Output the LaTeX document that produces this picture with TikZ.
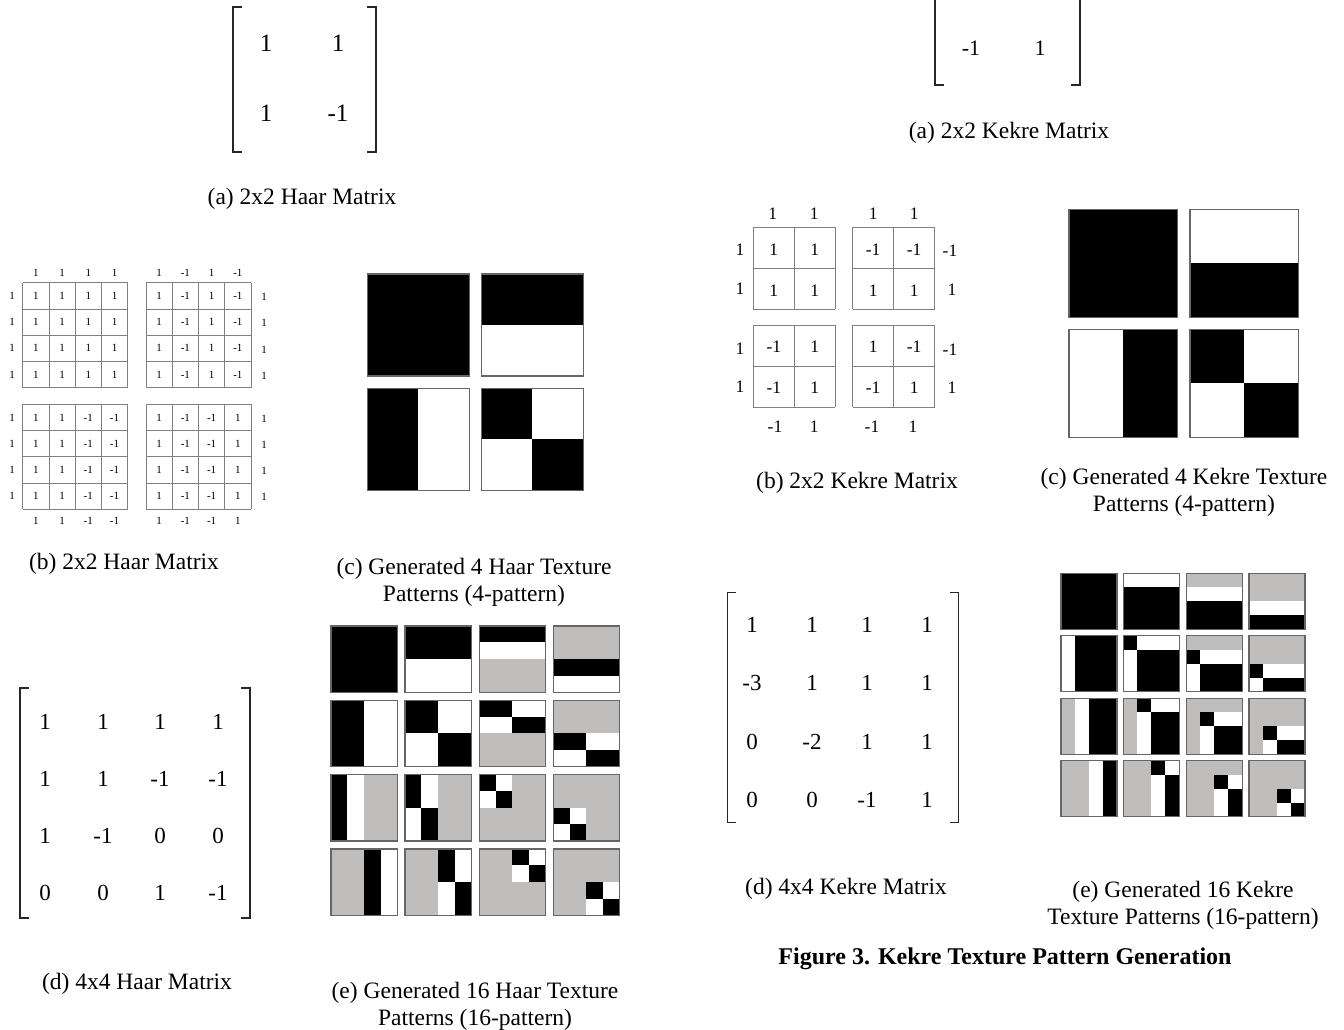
\documentclass[tikz,border=0pt]{standalone}
\usepackage{fontspec}
\setmainfont{Liberation Serif}
\begin{document}
\begin{tikzpicture}[x=1pt,y=-1pt]
\definecolor{texgray}{RGB}{192,189,189}
\colorlet{tc0}{white}
\colorlet{tc1}{texgray}
\colorlet{tc2}{black}
\tikzset{
  caption/.style={inner sep=0pt, font=\fontsize{23.5}{27}\selectfont, align=center, yshift=-3pt},
  figcap/.style={inner sep=0pt, font=\bfseries\fontsize{24}{27}\selectfont, yshift=-3pt},
  bigent/.style={inner sep=0pt, font=\fontsize{25}{25}\selectfont},
  mident/.style={inner sep=0pt, font=\fontsize{23}{23}\selectfont},
  kent/.style={inner sep=0pt, font=\fontsize{22}{22}\selectfont},
  klab/.style={inner sep=0pt, font=\fontsize{17.5}{17.5}\selectfont},
  tinylab/.style={inner sep=0pt, font=\fontsize{11}{11}\selectfont},
  bracket/.style={draw=black!85, line width=1.3pt},
  gridline/.style={draw=black!50, line width=0.9pt},
  tileborder/.style={draw=black!60, line width=1.3pt}
}
\useasboundingbox (0,0) rectangle (1344,1029);
\fill[white] (0,0) rectangle (1344,1029);

% ---------- texture tile macro ----------
\newcommand{\texgrid}[7]{%
  \pgfmathtruncatemacro\nm{#6-1}%
  \foreach \a in {0,...,\nm}{\foreach \b in {0,...,\nm}{%
    \foreach \i in {0,...,\nm}{\foreach \j in {0,...,\nm}{%
      \pgfmathtruncatemacro\s{sign(#7[#6*\b+\i]*#7[#6*\a+\j])+1}%
      \pgfmathsetmacro\cx{#1+#4*\b+#3/#6*\j}%
      \pgfmathsetmacro\cy{#2+#5*\a+#3/#6*\i}%
      \pgfmathsetmacro\cs{#3/#6+0.5}%
      \fill[tc\s] (\cx-0.25,\cy-0.25) rectangle ++(\cs,\cs);
    }}%
    \draw[tileborder] (#1+#4*\b,#2+#5*\a) rectangle ++(#3,#3);
  }}%
}
\def\HAtwo{{1,1, 1,-1}}
\def\KEtwo{{1,1, -1,1}}
\def\HAfour{{1,1,1,1, 1,1,-1,-1, 1,-1,0,0, 0,0,1,-1}}
\def\KEfour{{1,1,1,1, -3,1,1,1, 0,-2,1,1, 0,0,-1,1}}

% ================= HAAR (left) =================
% (a) 2x2 Haar matrix
\draw[bracket] (242,7) -- (233,7) -- (233,152) -- (242,152);
\draw[bracket] (367,7) -- (376,7) -- (376,152) -- (367,152);
\node[bigent] (ha11) at (266,43) {1};
\node[bigent] (ha12) at (338,43) {1};
\node[bigent] (ha21) at (266,113) {1};
\node[bigent] (ha22) at (338,113) {-1};
\node[caption] (capha) at (302,196) {(a) 2x2 Haar Matrix};

% (b) 2x2 Haar matrix grids
\foreach \gx/\gy/\vals in {22.7/282.7/{1,1,1,1}, 146/282.7/{1,-1,1,-1}, 22.7/404.3/{1,1,-1,-1}, 146/404.3/{1,-1,-1,1}}{
  \foreach \k in {0,...,4}{
    \draw[gridline] (\gx+26.25*\k,\gy) -- (\gx+26.25*\k,\gy+105);
    \draw[gridline] (\gx,\gy+26.25*\k) -- (\gx+105,\gy+26.25*\k);
  }
  \foreach \v [count=\c from 0] in \vals{
    \foreach \r in {0,...,3}{
      \node[tinylab] at (\gx+13.1+26.25*\c,\gy+13.1+26.25*\r) {\v};
    }
  }
}
\foreach \v [count=\c from 0] in {1,1,1,1}{\node[tinylab] at (35.8+26.25*\c,273) {\v};}
\foreach \v [count=\c from 0] in {1,-1,1,-1}{\node[tinylab] at (159.1+26.25*\c,273) {\v};}
\foreach \v [count=\c from 0] in {1,1,-1,-1}{\node[tinylab] at (35.8+26.25*\c,520.5) {\v};}
\foreach \v [count=\c from 0] in {1,-1,-1,1}{\node[tinylab] at (159.1+26.25*\c,520.5) {\v};}
\foreach \r in {0,...,3}{
  \node[tinylab] at (12,295.8+26.25*\r) {1};
  \node[tinylab] at (12,417.4+26.25*\r) {1};
  \node[tinylab] at (264,297+26.25*\r) {1};
  \node[tinylab] at (264,418.6+26.25*\r) {1};
}
\node[caption] (caphb) at (124,561) {(b) 2x2 Haar Matrix};

% (c) 4 Haar patterns
\texgrid{367.5}{274}{102}{114}{114.3}{2}{\HAtwo}
\node[caption] (caphc) at (474,579.5) {(c) Generated 4 Haar Texture\\Patterns (4-pattern)};

% (d) 4x4 Haar matrix
\draw[bracket] (29,688) -- (20,688) -- (20,918) -- (29,918);
\draw[bracket] (241,688) -- (250,688) -- (250,918) -- (241,918);
\foreach \row [count=\r from 0] in {{1,1,1,1},{1,1,-1,-1},{1,-1,0,0},{0,0,1,-1}}{
  \foreach \v [count=\c from 0] in \row{
    \pgfmathsetmacro\ex{ifthenelse(\c==0,45,ifthenelse(\c==1,103,ifthenelse(\c==2,160,218)))}
    \node[mident] at (\ex,721.7+57.2*\r) {\v};
  }
}
\node[caption] (caphd) at (137,981) {(d) 4x4 Haar Matrix};

% (e) 16 Haar patterns
\texgrid{331}{626}{66.5}{74.1}{74.3}{4}{\HAfour}
\node[caption] (caphe) at (475,1003.5) {(e) Generated 16 Haar Texture\\Patterns (16-pattern)};

% ================= KEKRE (right) =================
% (a) 2x2 Kekre matrix (top cut)
\draw[bracket] (935,0) -- (935,85) -- (944,85);
\draw[bracket] (1080,0) -- (1080,85) -- (1071,85);
\node[kent] (ka21) at (971,48) {-1};
\node[kent] (ka22) at (1040,48) {1};
\node[caption] (capka) at (1009,130) {(a) 2x2 Kekre Matrix};

% (b) 2x2 Kekre grids
\foreach \gx/\gy/\vals in {753.3/227.3/{1,1,1,1}, 852.7/227.3/{-1,-1,1,1}, 753.3/325/{-1,1,-1,1}, 852.7/325/{1,-1,-1,1}}{
  \foreach \k in {0,...,2}{
    \draw[gridline] (\gx+41*\k,\gy) -- (\gx+41*\k,\gy+82);
    \draw[gridline] (\gx,\gy+41*\k) -- (\gx+82,\gy+41*\k);
  }
  \foreach \v [count=\n from 0] in \vals{
    \pgfmathtruncatemacro\rr{\n/2}
    \pgfmathtruncatemacro\cc{\n-2*\rr}
    \node[klab] at (\gx+20.5+41*\cc,\gy+22+41*\rr) {\v};
  }
}
\node[klab] at (772.7,213.3) {1};
\node[klab] at (814.3,213.3) {1};
\node[klab] at (873.3,213.3) {1};
\node[klab] at (914.3,213.3) {1};
\node[klab] at (740,250) {1};
\node[klab] at (740,288.3) {1};
\node[klab] at (740,348.3) {1};
\node[klab] at (740,386.7) {1};
\node[klab] at (950,251) {-1};
\node[klab] at (952,289.3) {1};
\node[klab] at (950,349.3) {-1};
\node[klab] at (952,387.7) {1};
\node[klab] at (775,426.7) {-1};
\node[klab] at (814.3,426.7) {1};
\node[klab] at (872,426.7) {-1};
\node[klab] at (913,426.7) {1};
\node[caption] (capkb) at (857,480) {(b) 2x2 Kekre Matrix};

% (c) 4 Kekre patterns
\texgrid{1069}{209.3}{108.5}{121}{120}{2}{\KEtwo}
\node[caption] (capkc) at (1184,489.5) {(c) Generated 4 Kekre Texture\\Patterns (4-pattern)};

% (d) 4x4 Kekre matrix
\draw[bracket] (736,592.7) -- (727.3,592.7) -- (727.3,822.7) -- (736,822.7);
\draw[bracket] (949.5,592.7) -- (958.3,592.7) -- (958.3,822.7) -- (949.5,822.7);
\foreach \row [count=\r from 0] in {{1,1,1,1},{-3,1,1,1},{0,-2,1,1},{0,0,-1,1}}{
  \foreach \v [count=\c from 0] in \row{
    \pgfmathsetmacro\ex{ifthenelse(\c==0,752,ifthenelse(\c==1,812,ifthenelse(\c==2,867,927)))}
    \node[mident] at (\ex,625+58.3*\r) {\v};
  }
}
\node[caption] (capkd) at (846,886) {(d) 4x4 Kekre Matrix};

% (e) 16 Kekre patterns
\texgrid{1061}{573.3}{56}{62.7}{62.5}{4}{\KEfour}
\node[caption] (capke) at (1183,902) {(e) Generated 16 Kekre\\Texture Patterns (16-pattern)};

\node[figcap] (fig3) at (1005,956) {Figure 3. Kekre Texture Pattern Generation};
\end{tikzpicture}
\end{document}
